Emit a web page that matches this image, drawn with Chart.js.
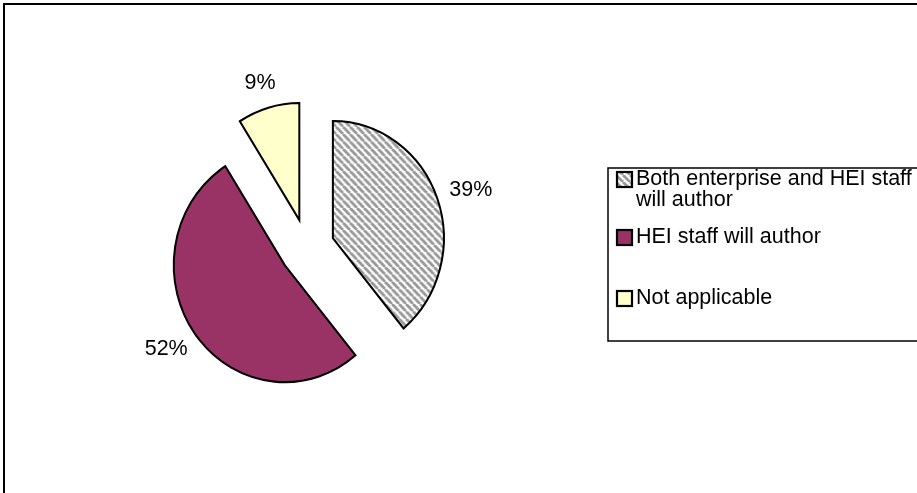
<!DOCTYPE html>
<html>
<head>
<meta charset="utf-8">
<script src="https://cdn.jsdelivr.net/npm/chart.js@4.4.1/dist/chart.umd.min.js"></script>
<style>
  html, body { margin: 0; padding: 0; background: #fff; }
  canvas { display: block; }
</style>
</head>
<body>
<canvas id="grafico" width="917" height="493"></canvas>
<script>
// datos
const categorias = ['Both enterprise and HEI staff will author', 'HEI staff will author', 'Not applicable'];
const lineasLeyenda = [['Both enterprise and HEI staff', 'will author'], ['HEI staff will author'], ['Not applicable']];
const porcentajes = [39, 52, 9];

const FUENTE = '21.5px "Liberation Sans", Arial, sans-serif';
const SEPARACION = 27.5;   // explosion de cada porcion
const ESCALA_Y = 1.055;    // la torta original es algo ovalada
const HUECO = 14;          // distancia de los rotulos al borde

function crearRayado() {
  const s = 7;
  const c = document.createElement('canvas');
  c.width = s; c.height = s;
  const g = c.getContext('2d');
  g.fillStyle = '#fff';
  g.fillRect(0, 0, s, s);
  g.strokeStyle = '#999';
  g.lineWidth = 2.8;
  g.beginPath();
  [-s, 0, s].forEach(k => { g.moveTo(k, 0); g.lineTo(k + s, s); });
  g.stroke();
  return g.createPattern(c, 'repeat');
}

const rayado = crearRayado();
const colores = [rayado, '#993366', '#FFFFCC'];

function centro(chart) {
  const a = chart.chartArea;
  return { cx: (a.left + a.right) / 2, cy: (a.top + a.bottom) / 2 };
}

const explotar = {
  id: 'explotar',
  afterDatasetsUpdate(chart) {
    chart.getDatasetMeta(0).data.forEach(arc => {
      const medio = (arc.startAngle + arc.endAngle) / 2;
      arc.x += Math.cos(medio) * SEPARACION;
      arc.y += Math.sin(medio) * SEPARACION;
    });
  }
};

const elipse = {
  id: 'elipse',
  beforeDatasetsDraw(chart) {
    const { cx, cy } = centro(chart);
    const ctx = chart.ctx;
    ctx.save();
    ctx.translate(cx, cy);
    ctx.scale(1, ESCALA_Y);
    ctx.translate(-cx, -cy);
  },
  afterDatasetsDraw(chart) {
    chart.ctx.restore();
  }
};

const rotulos = {
  id: 'rotulos',
  afterDatasetsDraw(chart) {
    const ctx = chart.ctx;
    const { cy } = centro(chart);
    ctx.save();
    ctx.font = FUENTE;
    ctx.fillStyle = '#000';
    ctx.textAlign = 'center';
    ctx.textBaseline = 'middle';
    chart.getDatasetMeta(0).data.forEach((arc, i) => {
      const medio = (arc.startAngle + arc.endAngle) / 2;
      const c = Math.cos(medio), s = Math.sin(medio);
      const px = arc.x;
      const py = cy + (arc.y - cy) * ESCALA_Y;
      const r = arc.outerRadius + HUECO;
      const texto = porcentajes[i] + '%';
      const w = ctx.measureText(texto).width;
      const h = 22;
      const x = px + c * r + c * w / 2;
      const y = py + s * r * ESCALA_Y + s * h / 2;
      ctx.fillText(texto, x, y);
    });
    ctx.restore();
  }
};

const leyenda = {
  id: 'leyenda',
  afterDraw(chart) {
    const ctx = chart.ctx;
    const caja = { x: 608, y: 168, w: 400, h: 173 };
    const filas = [179, 237, 298];
    ctx.save();
    ctx.lineWidth = 1.5;
    ctx.strokeStyle = '#000';
    ctx.strokeRect(caja.x, caja.y, caja.w, caja.h);
    ctx.font = FUENTE;
    ctx.textBaseline = 'middle';
    ctx.textAlign = 'left';
    lineasLeyenda.forEach((lineas, i) => {
      const y = filas[i];
      ctx.fillStyle = colores[i];
      ctx.fillRect(617, y - 7, 15, 15);
      ctx.lineWidth = 2.2;
      ctx.strokeStyle = '#000';
      ctx.strokeRect(617, y - 7, 15, 15);
      ctx.fillStyle = '#000';
      lineas.forEach((t, j) => ctx.fillText(t, 636, y + j * 21));
    });
    ctx.restore();
  }
};

const marco = {
  id: 'marco',
  afterDraw(chart) {
    const ctx = chart.ctx;
    ctx.save();
    ctx.lineWidth = 2;
    ctx.strokeStyle = '#000';
    ctx.strokeRect(4, 4, 1000, 1000);
    ctx.restore();
  }
};

window.onload = () => {
  new Chart(document.getElementById('grafico'), {
    type: 'pie',
    data: {
      labels: categorias,
      datasets: [{
        data: porcentajes,
        backgroundColor: colores,
        borderColor: '#000',
        borderWidth: 2,
        borderJoinStyle: 'miter'
      }]
    },
    options: {
      responsive: false,
      animation: false,
      events: [],
      radius: 111,
      layout: { padding: { left: 60, right: 363, top: 20, bottom: 17 } },
      plugins: {
        legend: { display: false },
        tooltip: { enabled: false }
      }
    },
    plugins: [explotar, elipse, rotulos, leyenda, marco]
  });
};
</script>
</body>
</html>
